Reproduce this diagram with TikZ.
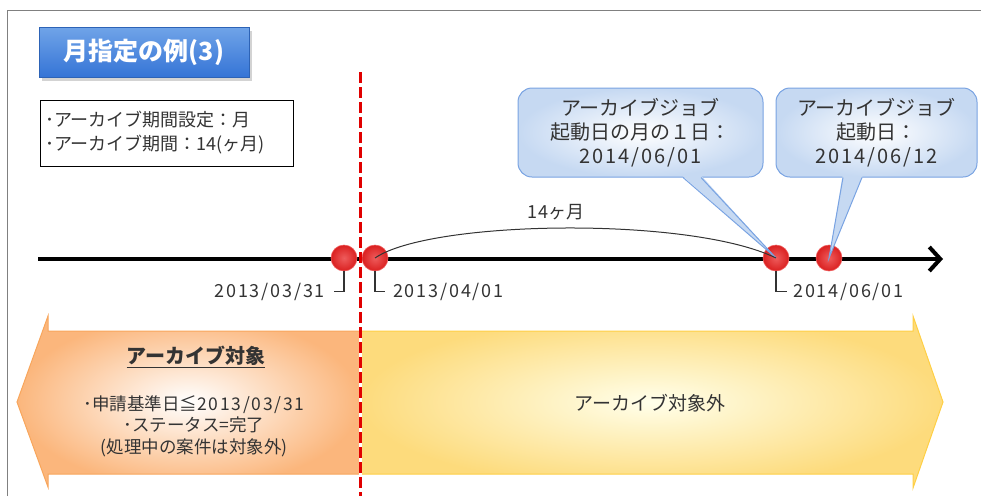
\documentclass[tikz,border=0pt]{standalone}
\usepackage{fontspec}
\setmainfont{Noto Sans CJK JP}
\usetikzlibrary{arrows.meta,calc,positioning,shadows}

\definecolor{titleblue}{HTML}{3574D6}
\definecolor{titlelight}{HTML}{70A4E8}
\definecolor{calloutline}{HTML}{79A3E2}
\definecolor{calloutfill}{HTML}{C6D9F2}
\definecolor{dotred}{HTML}{DA2020}
\definecolor{dotlight}{HTML}{EE5C5C}
\definecolor{cutred}{HTML}{E00000}
\definecolor{inedge}{HTML}{F8A65C}
\definecolor{infill}{HTML}{FBB67C}
\definecolor{outedge}{HTML}{FFCF45}
\definecolor{outfill}{HTML}{FDDB7C}
\definecolor{textgray}{HTML}{333333}

\newcommand\wide[1]{{\addfontfeature{LetterSpace=10}#1}}

\tikzset{
  titlebox/.style={draw=titleblue!85!black,line width=0.5pt,top color=titlelight,bottom color=titleblue,
    minimum width=210pt,minimum height=50pt,text=white,font=\fontsize{25}{28}\selectfont\bfseries,
    drop shadow={shadow xshift=3pt,shadow yshift=-4pt,opacity=0.35}},
  infobox/.style={draw,line width=1pt,minimum width=253pt,minimum height=66pt,text width=243pt,
    align=left,inner xsep=5pt,font=\fontsize{18}{24}\selectfont,text=textgray},
  datedot/.style={circle,minimum size=26pt,inner sep=0pt,draw=dotlight,line width=0.6pt,
    inner color=dotlight,outer color=dotred},
  datelabel/.style={font=\fontsize{18}{20}\selectfont,text=textgray,inner sep=0pt},
  callout/.style={draw=calloutline,line width=1pt,rounded corners=14pt,inner color=white,
    outer color=calloutfill,minimum height=89pt,align=center,font=\fontsize{20}{24}\selectfont,text=textgray},
  pointer/.style={draw=calloutline,line width=1pt},
  bracket/.style={textgray,line width=1.2pt},
}

\begin{document}
\begin{tikzpicture}[x=1pt,y=-1pt]
  \useasboundingbox (0,0) rectangle (981,496);
  % frame
  \draw[gray,line width=1pt] (7,496) -- (7,10) -- (981,10);

  \node[titlebox] (title) at (144,52) {月指定の例(3)};
  \node[infobox] (info) at (166.5,133) {･アーカイブ期間設定：月\\･アーカイブ期間：14(ヶ月)};

  % range arrows
  \draw[inedge,line width=1pt,inner color=white,outer color=infill]
    (360,331) -- (48,331) -- (48,316) -- (17,402) -- (48,487) -- (48,474) -- (360,474) -- cycle;
  \draw[outedge,line width=1pt,inner color=white!60!yellow!20,outer color=outfill]
    (360,331) -- (913,331) -- (913,316) -- (943,402) -- (913,488) -- (913,474) -- (360,474) -- cycle;
  \node[font=\fontsize{20}{24}\selectfont\bfseries,text=textgray] (inhead) at (196,357) {\underline{アーカイブ対象}};
  \node[font=\fontsize{17.5}{21.5}\selectfont,text=textgray,align=center] (incond) at (194,426)
    {･申請基準日≦\wide{2013/03/31}\\･ステータス=完了\\(処理中の案件は対象外)};
  \node[font=\fontsize{19}{22}\selectfont,text=textgray] (outlabel) at (650,403) {アーカイブ対象外};

  % time line
  \coordinate (tstart) at (38,259);
  \coordinate (tend) at (943,259);
  \draw[line width=4pt,-{Straight Barb[length=11pt,width=24pt]}] (tstart) -- (tend);
  \foreach \x/\n in {344/d1,375/d2,776/d3,829/d4}
    \node[datedot] (\n) at (\x,258) {};

  \node[datelabel,anchor=east] (l1) at (325,291.5) {\wide{2013/03/31}};
  \node[datelabel,anchor=west] (l2) at (393,291.5) {\wide{2013/04/01}};
  \node[datelabel,anchor=west] (l3) at (793,291.5) {\wide{2014/06/01}};
  \draw[bracket] (d1.south) |- ([xshift=9pt]l1.east);
  \draw[bracket] (d2.south) |- ([xshift=-8pt]l2.west);
  \draw[bracket] (d3.south) |- ([xshift=-6pt]l3.west);

  % callouts
  \node[callout,minimum width=245pt] (cb1) at (640.5,132.5) {アーカイブジョブ\\起動日の月の１日：\\\wide{2014/06/01}};
  \node[callout,minimum width=201pt] (cb2) at (876.5,132.5) {アーカイブジョブ\\起動日：\\\wide{2014/06/12}};
  \fill[calloutfill] ($(cb1.south)+(42,-1.5)$) -- (d3.center) -- ($(cb1.south)+(61,-1.5)$) -- cycle;
  \draw[pointer] ($(cb1.south)+(42.5,0)$) -- (d3.center) -- ($(cb1.south)+(60.5,0)$);
  \fill[calloutfill] ($(cb2.south)+(-34,-1.5)$) -- (d4.center) -- ($(cb2.south)+(-14,-1.5)$) -- cycle;
  \draw[pointer] ($(cb2.south)+(-33.5,0)$) -- (d4.center) -- ($(cb2.south)+(-14.5,0)$);

  % 14 months
  \draw[textgray,line width=1pt] (d2.center) .. controls +(55,-38) and +(-86,-42) .. (d3.center);
  \node[font=\fontsize{18}{20}\selectfont,text=textgray] (span) at (556,212) {\wide{14}ヶ月};

  % cut line
  \coordinate (cuttop) at (360,72);
  \coordinate (cutbot) at (360,496);
  \draw[white,line width=3pt] (cuttop) -- (cutbot);
  \draw[cutred,line width=3pt,dash pattern=on 11pt off 4pt] (cuttop) -- (cutbot);
\end{tikzpicture}
\end{document}
